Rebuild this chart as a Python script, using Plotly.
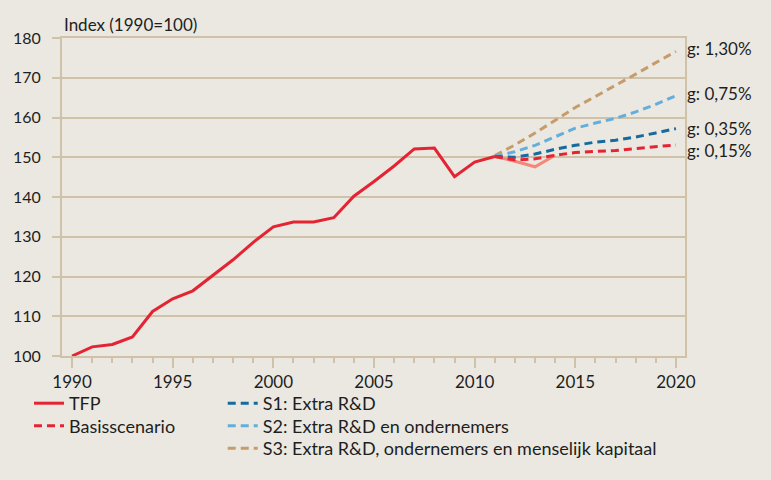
import plotly.graph_objects as go

years_hist = list(range(1990, 2012))
tfp = [100, 102.3, 102.9, 104.8, 111.2, 114.4, 116.4, 120.3, 124.2, 128.6, 132.5, 133.7,
       133.7, 134.8, 140.2, 143.9, 147.8, 152.1, 152.3, 145.1, 148.8, 150.2]

years_real = [2011, 2012, 2013, 2014]
tfp_real = [150.2, 149.0, 147.6, 150.5]

years_scen = list(range(2011, 2021))
basis = [150.2, 149.3, 149.6, 150.5, 151.2, 151.5, 151.7, 152.2, 152.7, 153.1]
s1 = [150.2, 150.0, 150.8, 152.0, 153.0, 153.8, 154.3, 155.1, 156.1, 157.2]
s2 = [150.2, 151.4, 153.0, 155.1, 157.3, 158.6, 159.8, 161.4, 163.3, 165.5]
s3 = [150.4, 153.1, 156.1, 159.4, 162.5, 165.3, 168.0, 170.9, 173.8, 176.6]

growth_labels = ["g: 1,30%", "g: 0,75%", "g: 0,35%", "g: 0,15%"]
growth_label_y = [177.3, 166.0, 157.2, 151.7]

x_ticks = [1990, 1995, 2000, 2005, 2010, 2015, 2020]
y_ticks = [100, 110, 120, 130, 140, 150, 160, 170, 180]

RED = "#E42333"
SALMON = "#F4877A"
DARK_BLUE = "#156A9E"
LIGHT_BLUE = "#64AEDC"
TAN = "#C69C6D"
GRID = "#CFC2A8"
BG = "#EAE8E1"
TXT = "#1E1E1E"
FONT = "Lato"
dash = "8px,5px"

fig = go.Figure()
fig.add_trace(go.Scatter(x=years_real, y=tfp_real, mode="lines", line=dict(color=SALMON, width=3),
                         showlegend=False, hoverinfo="skip"))
fig.add_trace(go.Scatter(x=years_scen, y=s3, mode="lines", name="S3: Extra R&D, ondernemers en menselijk kapitaal",
                         line=dict(color=TAN, width=3, dash=dash), legend="legend5"))
fig.add_trace(go.Scatter(x=years_scen, y=s2, mode="lines", name="S2: Extra R&D en ondernemers",
                         line=dict(color=LIGHT_BLUE, width=3, dash=dash), legend="legend4"))
fig.add_trace(go.Scatter(x=years_scen, y=s1, mode="lines", name="S1: Extra R&D",
                         line=dict(color=DARK_BLUE, width=3, dash=dash), legend="legend3"))
fig.add_trace(go.Scatter(x=years_scen, y=basis, mode="lines", name="Basisscenario",
                         line=dict(color=RED, width=3, dash=dash), legend="legend2"))
fig.add_trace(go.Scatter(x=years_hist, y=tfp, mode="lines", name="TFP",
                         line=dict(color=RED, width=3), legend="legend"))

for lbl, yy in zip(growth_labels, growth_label_y):
    fig.add_annotation(x=1, xref="paper", xanchor="left", xshift=0, y=yy, yref="y",
                       text=lbl, showarrow=False, font=dict(family=FONT, size=17, color=TXT))

fig.add_annotation(x=0, xref="paper", xanchor="left", y=1, yref="paper", yanchor="bottom", yshift=1,
                   text="Index (1990=100)", showarrow=False, font=dict(family=FONT, size=17, color=TXT))


def leg(x, y):
    return dict(x=x, y=y, xanchor="left", yanchor="top", orientation="v",
                bgcolor="rgba(0,0,0,0)", font=dict(size=18))


fig.update_layout(
    width=771, height=480,
    paper_bgcolor=BG, plot_bgcolor=BG,
    margin=dict(l=62, r=86, t=38, b=124),
    font=dict(family=FONT, size=15, color=TXT),
    legend=leg(-0.053, -0.0912),
    legend2=leg(-0.053, -0.1619),
    legend3=leg(0.258, -0.0912),
    legend4=leg(0.258, -0.1619),
    legend5=leg(0.258, -0.2327),
    xaxis=dict(range=[1989.5, 2020.45], tickvals=x_ticks, ticks="outside", ticklen=10, tickcolor=GRID,
               tickwidth=1.5, showgrid=False, showline=True, linecolor=GRID, linewidth=2, mirror=True,
               zeroline=False, tickfont=dict(size=17), ticklabelstandoff=0,
               minor=dict(dtick=1, tick0=1990, ticks="outside", ticklen=5, tickcolor=GRID, tickwidth=1.5,
                          showgrid=False)),
    yaxis=dict(range=[100, 180], tickvals=y_ticks, ticks="outside", ticklen=8, tickcolor=GRID,
               tickwidth=2, showgrid=True, gridcolor=GRID, gridwidth=2, showline=True, linecolor=GRID,
               linewidth=2, mirror=True, zeroline=False, tickfont=dict(size=16), ticklabelstandoff=8),
    showlegend=True,
)

fig.write_html("out.html", config={"displayModeBar": False},
               post_script="document.body.style.margin='0';document.body.style.overflow='hidden';")
